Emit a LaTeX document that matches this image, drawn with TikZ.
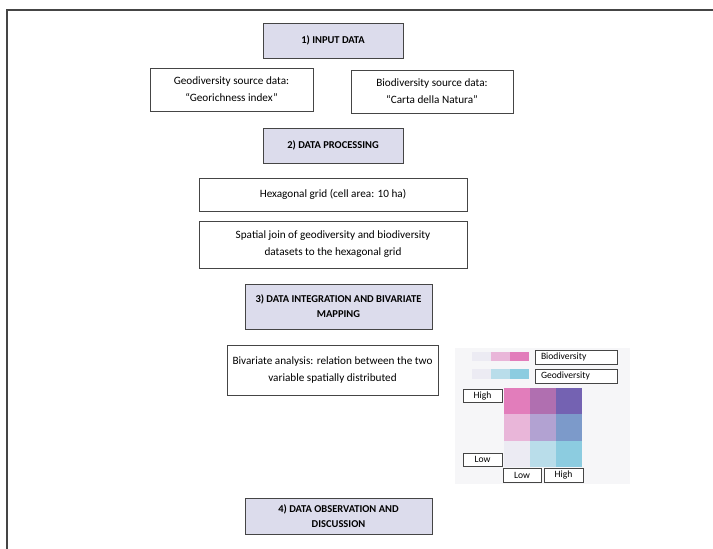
\documentclass[tikz,border=0pt]{standalone}
\usepackage{fontspec}
\setmainfont{Carlito}
\usepackage{pgf,tikz}
\definecolor{lavanda}{HTML}{DCDCEC}
\definecolor{borde}{HTML}{454545}
\definecolor{fondo}{HTML}{F6F6F8}
\definecolor{bioA}{HTML}{ECEBF3}
\definecolor{bioB}{HTML}{E9B6D9}
\definecolor{bioC}{HTML}{E27DBB}
\definecolor{geoB}{HTML}{B9DDEA}
\definecolor{geoC}{HTML}{8CCCE0}
\definecolor{mixA}{HTML}{B06FB0}
\definecolor{mixB}{HTML}{7462B2}
\definecolor{mixC}{HTML}{B2A2D2}
\definecolor{mixD}{HTML}{7C9ACA}
\tikzstyle{caja} = [draw=borde, fill=white, rectangle, inner sep=0pt, align=center, font=\fontsize{11.2}{17}\selectfont]
\tikzstyle{fase} = [caja, fill=lavanda, font=\bfseries\fontsize{10.5}{15}\selectfont]
\tikzstyle{etiqueta} = [draw=borde, fill=white, rectangle, inner sep=0pt, minimum height=13.5pt, font=\fontsize{9.6}{10}\selectfont]
\tikzstyle{celda} = [rectangle, inner sep=0pt, minimum width=26pt, minimum height=26.3pt]
\tikzstyle{muestra} = [rectangle, inner sep=0pt, minimum width=19pt, minimum height=9.5pt]

\begin{document}
\begin{tikzpicture}[x=1pt, y=-1pt]
	\useasboundingbox (0,0) rectangle (713,549);
	\draw[borde, line width=1.2pt] (7,549) -- (7,10) -- (713,10);

	\node[fase, minimum width=140pt, minimum height=35pt](entrada) at (333,40.5) {1) INPUT DATA};
	\node[caja, minimum width=163pt, minimum height=43pt](geo) at (231.5,89.5) {Geodiversity source data:\\``Georichness index''};
	\node[caja, minimum width=162pt, minimum height=43pt](bio) at (432,91.5) {Biodiversity source data:\\``Carta della Natura''};
	\node[fase, minimum width=140pt, minimum height=35pt](proceso) at (333,145.5) {2) DATA PROCESSING};
	\node[caja, minimum width=268pt, minimum height=33pt](malla) at (333,194.5) {Hexagonal grid (cell area: 10 ha)};
	\node[caja, minimum width=268pt, minimum height=47pt](union) at (333,244.5) {Spatial join of geodiversity and biodiversity\\datasets to the hexagonal grid};
	\node[fase, minimum width=187pt, minimum height=45pt](integracion) at (338.5,306.5) {3) DATA INTEGRATION AND BIVARIATE\\MAPPING};
	\node[caja, minimum width=211pt, minimum height=50pt](analisis) at (332.5,370) {Bivariate analysis: relation between the two\\variable spatially distributed};
	\node[fase, minimum width=187pt, minimum height=36pt](observacion) at (338.5,516) {4) DATA OBSERVATION AND\\DISCUSSION};

	% leyenda bivariada
	\node[rectangle, fill=fondo, minimum width=175pt, minimum height=136pt](leyenda) at (542.5,416) {};
	\node[muestra, fill=bioA] at (481.5,356.5) {};
	\node[muestra, fill=bioB] at (500.5,356.5) {};
	\node[muestra, fill=bioC] at (519.5,356.5) {};
	\node[muestra, fill=bioA] at (481.5,374) {};
	\node[muestra, fill=geoB] at (500.5,374) {};
	\node[muestra, fill=geoC] at (519.5,374) {};
	\node[etiqueta, minimum width=82pt, text width=70pt, inner xsep=6pt, align=left](biodiv) at (576,357) {Biodiversity};
	\node[etiqueta, minimum width=82pt, text width=70pt, inner xsep=6pt, align=left](geodiv) at (576,376) {Geodiversity};

	\foreach \col [count=\i from 0] in {bioC,mixA,mixB}
		\node[celda, fill=\col] at (517+26*\i,401) {};
	\foreach \col [count=\i from 0] in {bioB,mixC,mixD}
		\node[celda, fill=\col] at (517+26*\i,427.5) {};
	\foreach \col [count=\i from 0] in {bioA,geoB,geoC}
		\node[celda, fill=\col] at (517+26*\i,454) {};

	\node[etiqueta, minimum width=39pt](altoY) at (482.5,395.5) {High};
	\node[etiqueta, minimum width=39pt](bajoY) at (482.5,459.5) {Low};
	\node[etiqueta, minimum width=38pt](bajoX) at (522,475) {Low};
	\node[etiqueta, minimum width=39pt](altoX) at (563.5,475) {High};
\end{tikzpicture}
\end{document}
